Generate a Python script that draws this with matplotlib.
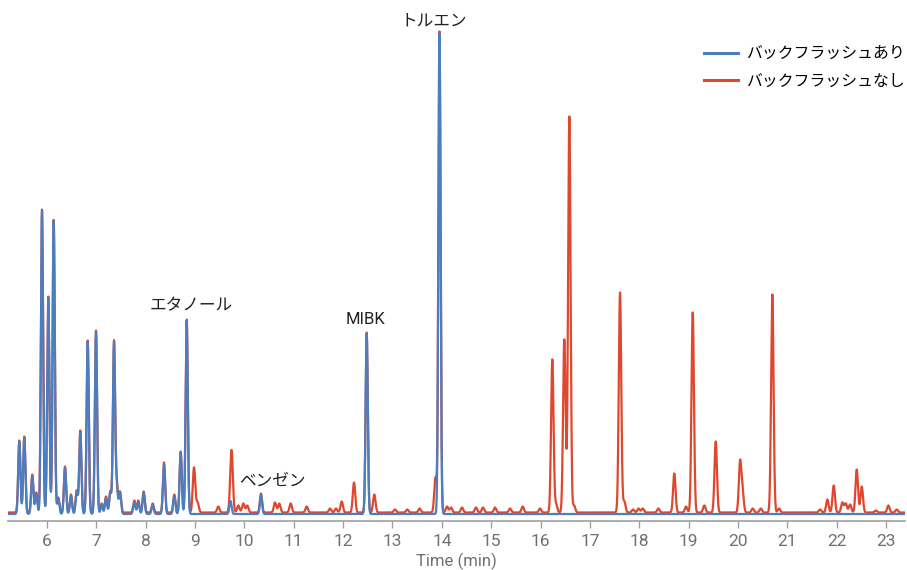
import numpy as np
import matplotlib
matplotlib.use('Agg')
from matplotlib import pyplot as plt

plt.rcParams['font.family'] = ['Roboto', 'Noto Sans CJK JP', 'DejaVu Sans']

# Peaks seen in both runs (retention time in min, height in detector units)
shared_rt = [5.439, 5.540, 5.702, 5.783, 5.899, 6.026, 6.136, 6.229, 6.365, 6.486,
             6.602, 6.675, 6.825, 6.993, 7.108, 7.196, 7.283, 7.358, 7.412, 7.479,
             7.769, 7.850, 7.959, 8.142, 8.371, 8.580, 8.709, 8.831, 9.718, 10.336,
             12.478, 13.953]
shared_h = [72, 76, 38, 20, 303, 216, 293, 15, 46, 18,
            22, 82, 172, 182, 9, 16, 21, 171, 28, 21,
            12, 12, 21, 9, 50, 18, 61, 193, 13, 19,
            180, 481]

# Extra peaks only present without backflush
red_rt = [8.979, 9.050, 9.471, 9.743, 9.876, 9.978, 10.059, 10.620, 10.707, 10.938,
          11.262, 11.735, 11.856, 11.972, 12.221, 12.632, 13.050, 13.300, 13.550, 13.872,
          14.105, 14.186, 14.409, 14.693, 14.835, 15.078, 15.382, 15.639, 15.990, 16.239,
          16.314, 16.482, 16.584, 16.679, 17.611, 17.698, 17.874, 17.986, 18.071, 18.387,
          18.711, 18.948, 19.084, 19.319, 19.550, 20.043, 20.093, 20.300, 20.462, 20.697,
          20.833, 21.664, 21.812, 21.941, 22.116, 22.185, 22.272, 22.407, 22.509, 22.792,
          23.048, 23.217]
red_h = [45, 10, 6, 55, 7, 9, 7, 10, 9, 9,
         6, 4, 4, 11, 30, 18, 3, 3, 4, 35,
         6, 5, 5, 5, 5, 5, 4, 6, 4, 153,
         8, 173, 396, 7, 220, 11, 3, 4, 4, 4,
         39, 6, 200, 7, 71, 50, 20, 4, 4, 218,
         4, 3, 13, 27, 10, 9, 8, 43, 26, 2,
         7, 3]

labels = ['エタノール', 'ベンゼン', 'MIBK', 'トルエン']
label_rt = [8.93, 10.57, 12.46, 13.83]
label_y = [208, 33, 194, 493]

blue = '#4a7ec0'
red = '#e0472f'


def trace(rts, hs, t, sigma):
    y = np.zeros_like(t)
    for rt, h in zip(rts, hs):
        y += h * np.exp(-0.5 * ((t - rt) / sigma) ** 2)
    return y


t = np.linspace(5.21, 23.385, 8000)
with_bf = trace(shared_rt, shared_h, t, 0.022)
without_bf = with_bf + trace(red_rt, red_h, t, 0.025) + 1.5

fig = plt.figure(figsize=(9.07, 5.70), dpi=100)
ax = fig.add_axes([8 / 907, 49 / 570, 897 / 907, 516 / 570])

ax.plot(t, without_bf, color=red, lw=1.6, label='バックフラッシュなし')
ax.plot(t, with_bf, color=blue, lw=1.6, label='バックフラッシュあり')

ax.set_xlim(5.21, 23.385)
ax.set_ylim(-7, 509)
ax.set_xticks(range(6, 24))
ax.set_yticks([])
for s in ['top', 'right', 'left']:
    ax.spines[s].set_visible(False)
ax.spines['bottom'].set_color('#a0a0a0')
ax.spines['bottom'].set_linewidth(1.2)
ax.tick_params(axis='x', colors='#a0a0a0', length=5, width=1, labelsize=12.5,
               labelcolor='#707070', pad=4)
ax.set_xlabel('Time (min)', fontsize=12, color='#707070', labelpad=3)

for name, x, y in zip(labels, label_rt, label_y):
    ax.text(x, y, name, ha='center', va='center', fontsize=12, color='#222222')

handles, names = ax.get_legend_handles_labels()
leg = ax.legend(handles[::-1], names[::-1], loc='upper right', bbox_to_anchor=(1.017, 0.948),
                frameon=False, fontsize=11.4, handlelength=2.1, handletextpad=0.6,
                labelspacing=0.78)
for line in leg.get_lines():
    line.set_linewidth(2.2)

plt.savefig('out.png', dpi=100)
